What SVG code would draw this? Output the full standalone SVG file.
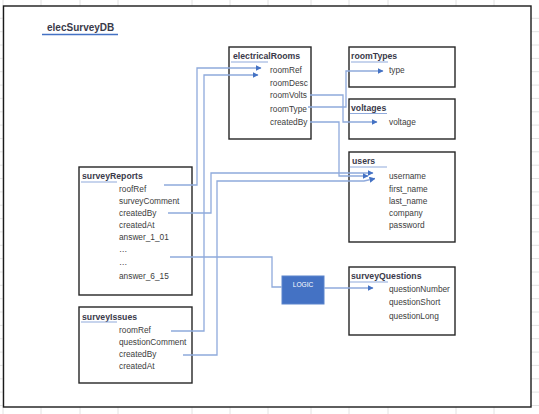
<svg xmlns="http://www.w3.org/2000/svg" width="539" height="414" viewBox="0 0 539 414">
  <style>
    .grid { stroke: #e2e2e2; stroke-width: 1; }
    .frame { fill: #ffffff; stroke: #1a1a1a; stroke-width: 1.4; }
    .box { fill: #ffffff; stroke: #262626; stroke-width: 1.4; }
    .title { font-family: "Liberation Sans", Arial, sans-serif; font-size: 8.7px; font-weight: bold; fill: #3a3a4a; }
    .field { font-family: "Liberation Sans", Arial, sans-serif; font-size: 8.3px; fill: #3c3c3c; }
    .uline { stroke: #8faadc; stroke-width: 1.2; }
    .conn { fill: none; stroke: #8faadc; stroke-width: 1.3; }
  </style>
  <defs>
    <marker id="arrow" markerUnits="userSpaceOnUse" markerWidth="6" markerHeight="6" refX="5.5" refY="3" orient="auto">
      <path d="M0,0 L6,3 L0,6 z" fill="#4472c4"/>
    </marker>
  </defs>

  <!-- sheet grid -->
  <g id="grid" class="grid">
    <line x1="41" y1="0" x2="41" y2="414"/>
    <line x1="80" y1="0" x2="80" y2="414"/>
    <line x1="118" y1="0" x2="118" y2="414"/>
    <line x1="192" y1="0" x2="192" y2="414"/>
    <line x1="230" y1="0" x2="230" y2="414"/>
    <line x1="268" y1="0" x2="268" y2="414"/>
    <line x1="311" y1="0" x2="311" y2="414"/>
    <line x1="349" y1="0" x2="349" y2="414"/>
    <line x1="388" y1="0" x2="388" y2="414"/>
    <line x1="456" y1="0" x2="456" y2="414"/>
    <line x1="494" y1="0" x2="494" y2="414"/>
    <line x1="3" y1="0" x2="3" y2="414"/>
    <line x1="0" y1="18.3" x2="539" y2="18.3"/>
    <line x1="0" y1="31.7" x2="539" y2="31.7"/>
    <line x1="0" y1="45" x2="539" y2="45"/>
    <line x1="0" y1="58.4" x2="539" y2="58.4"/>
    <line x1="0" y1="71.7" x2="539" y2="71.7"/>
    <line x1="0" y1="85.1" x2="539" y2="85.1"/>
    <line x1="0" y1="98.4" x2="539" y2="98.4"/>
    <line x1="0" y1="111.8" x2="539" y2="111.8"/>
    <line x1="0" y1="125.1" x2="539" y2="125.1"/>
    <line x1="0" y1="138.5" x2="539" y2="138.5"/>
    <line x1="0" y1="151.8" x2="539" y2="151.8"/>
    <line x1="0" y1="165.2" x2="539" y2="165.2"/>
    <line x1="0" y1="178.5" x2="539" y2="178.5"/>
    <line x1="0" y1="191.9" x2="539" y2="191.9"/>
    <line x1="0" y1="205.2" x2="539" y2="205.2"/>
    <line x1="0" y1="218.6" x2="539" y2="218.6"/>
    <line x1="0" y1="231.9" x2="539" y2="231.9"/>
    <line x1="0" y1="245.3" x2="539" y2="245.3"/>
    <line x1="0" y1="258.6" x2="539" y2="258.6"/>
    <line x1="0" y1="272" x2="539" y2="272"/>
    <line x1="0" y1="285.3" x2="539" y2="285.3"/>
    <line x1="0" y1="298.7" x2="539" y2="298.7"/>
    <line x1="0" y1="312" x2="539" y2="312"/>
    <line x1="0" y1="325.4" x2="539" y2="325.4"/>
    <line x1="0" y1="338.7" x2="539" y2="338.7"/>
    <line x1="0" y1="352.1" x2="539" y2="352.1"/>
    <line x1="0" y1="365.4" x2="539" y2="365.4"/>
    <line x1="0" y1="378.8" x2="539" y2="378.8"/>
    <line x1="0" y1="392.1" x2="539" y2="392.1"/>
    <line x1="0" y1="405.5" x2="539" y2="405.5"/>
  </g>

  <!-- outer frame and heading -->
  <rect class="frame" x="3.5" y="6" width="527.5" height="401"/>
  <g id="heading">
    <text x="47" y="31" font-family="Liberation Sans, Arial, sans-serif" font-size="10px" font-weight="bold" fill="#3a3a4a">elecSurveyDB</text>
    <line x1="42" y1="34.5" x2="118" y2="34.5" stroke="#4472c4" stroke-width="1.6"/>
  </g>

  <!-- tables -->
  <g id="electricalRooms">
    <rect class="box" x="229" y="47" width="82" height="92"/>
    <text class="title" x="233" y="59">electricalRooms</text>
    <line class="uline" x1="231" y1="62" x2="268" y2="62"/>
    <text class="field" x="270" y="73">roomRef</text>
    <text class="field" x="270" y="86">roomDesc</text>
    <text class="field" x="270" y="98">roomVolts</text>
    <text class="field" x="270" y="112">roomType</text>
    <text class="field" x="270" y="125">createdBy</text>
  </g>

  <g id="roomTypes">
    <rect class="box" x="349" y="47" width="106" height="40"/>
    <text class="title" x="351" y="59">roomTypes</text>
    <line class="uline" x1="351" y1="62" x2="388" y2="62"/>
    <text class="field" x="389" y="73">type</text>
  </g>

  <g id="voltages">
    <rect class="box" x="349" y="99" width="106" height="40"/>
    <text class="title" x="351" y="111">voltages</text>
    <line class="uline" x1="350" y1="113.5" x2="387" y2="113.5"/>
    <text class="field" x="389" y="125">voltage</text>
  </g>

  <g id="users">
    <rect class="box" x="349" y="152" width="106" height="90"/>
    <text class="title" x="352" y="164">users</text>
    <line class="uline" x1="350" y1="167" x2="387" y2="167"/>
    <text class="field" x="389" y="179">username</text>
    <text class="field" x="389" y="192">first_name</text>
    <text class="field" x="389" y="204">last_name</text>
    <text class="field" x="389" y="216">company</text>
    <text class="field" x="389" y="228">password</text>
  </g>

  <g id="surveyQuestions">
    <rect class="box" x="349" y="267" width="106" height="68"/>
    <text class="title" x="351" y="279">surveyQuestions</text>
    <line class="uline" x1="350" y1="282" x2="388" y2="282"/>
    <text class="field" x="389" y="292">questionNumber</text>
    <text class="field" x="389" y="305">questionShort</text>
    <text class="field" x="389" y="319">questionLong</text>
  </g>

  <g id="surveyReports">
    <rect class="box" x="79" y="167" width="113" height="128"/>
    <text class="title" x="82" y="179">surveyReports</text>
    <line class="uline" x1="81" y1="182" x2="117" y2="182"/>
    <text class="field" x="119" y="192">roofRef</text>
    <text class="field" x="119" y="204">surveyComment</text>
    <text class="field" x="119" y="216">createdBy</text>
    <text class="field" x="119" y="228">createdAt</text>
    <text class="field" x="119" y="240">answer_1_01</text>
    <text class="field" x="119" y="252">…</text>
    <text class="field" x="119" y="265">…</text>
    <text class="field" x="119" y="279">answer_6_15</text>
  </g>

  <g id="surveyIssues">
    <rect class="box" x="79" y="307" width="113" height="76"/>
    <text class="title" x="82" y="320">surveyIssues</text>
    <line class="uline" x1="81" y1="322" x2="117" y2="322"/>
    <text class="field" x="119" y="333">roomRef</text>
    <text class="field" x="119" y="345">questionComment</text>
    <text class="field" x="119" y="357">createdBy</text>
    <text class="field" x="119" y="369">createdAt</text>
  </g>

  <g id="logic">
    <rect x="282" y="276" width="42" height="28" fill="#4472c4" stroke="#5b84cc" stroke-width="1"/>
    <text x="303" y="287" text-anchor="middle" font-family="Liberation Sans, Arial, sans-serif" font-size="6.6px" fill="#ffffff">LOGIC</text>
  </g>

  <!-- relationships -->
  <g id="connectors" class="conn">
    <path d="M164,185 H197 V68 H261" marker-end="url(#arrow)"/>
    <path d="M171,331 H204 V75 H258" marker-end="url(#arrow)"/>
    <path d="M168,213 H211 V173 H373" marker-end="url(#arrow)"/>
    <path d="M310,122 H339 V176 H368" marker-end="url(#arrow)"/>
    <path d="M183,355 H217 V181 H364 L375,178.5" marker-end="url(#arrow)"/>
    <path d="M310,95 H343 V122 H377" marker-end="url(#arrow)"/>
    <path d="M308,107 H346 V71 H383" marker-end="url(#arrow)"/>
    <path d="M170,257 H272 V287 H282"/>
    <path d="M324,288 H373" marker-end="url(#arrow)"/>
  </g>
</svg>
